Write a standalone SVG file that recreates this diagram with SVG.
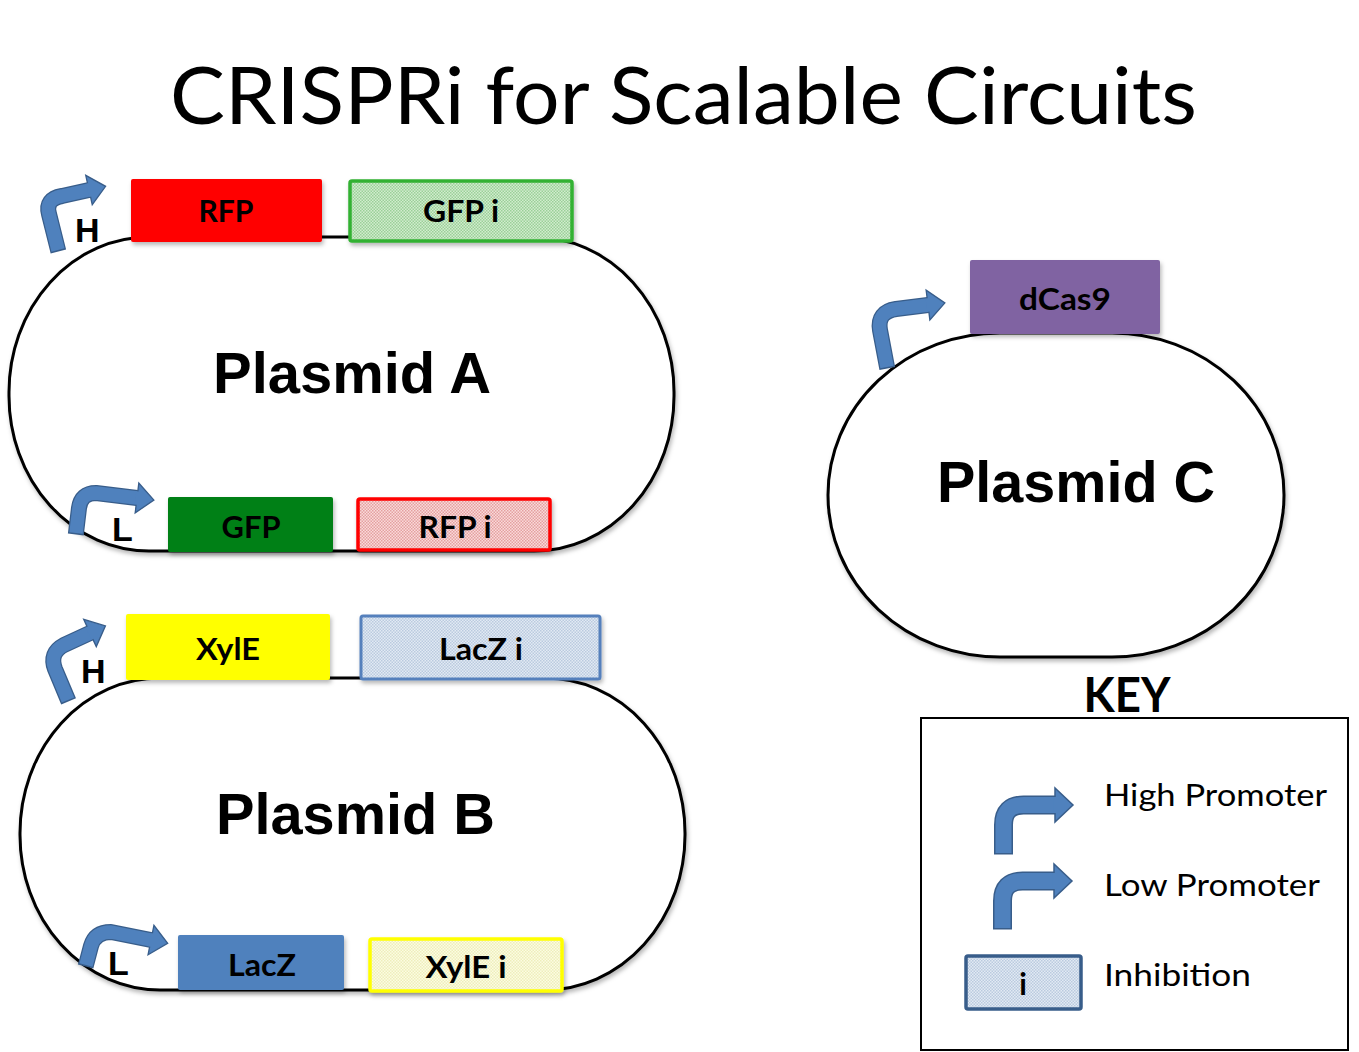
<svg xmlns="http://www.w3.org/2000/svg" width="1359" height="1052" viewBox="0 0 1359 1052">
  <defs>
    <style>
      .title { font-family: Lato, "Open Sans", sans-serif; font-size: 80px; fill: #000; }
      .plabel { font-family: "Liberation Sans", Arial, sans-serif; font-weight: bold; font-size: 57px; fill: #000; }
      .prom { font-family: "Liberation Sans", Arial, sans-serif; font-weight: bold; font-size: 34px; fill: #000; }
      .gene { font-family: Lato, "Open Sans", sans-serif; font-weight: bold; font-size: 30px; fill: #000; text-anchor: middle; }
      .keytxt { font-family: Lato, "Open Sans", sans-serif; font-size: 30px; fill: #000; }
      .keyhead { font-family: Lato, "Open Sans", sans-serif; font-weight: bold; font-size: 48px; fill: #000; text-anchor: middle; }
      .outline { fill: #fff; stroke: #000; stroke-width: 3; filter: url(#shadow); }
      .box { filter: url(#shadow); }
      .edge { fill: none; stroke: #385D8A; stroke-linejoin: round; }
      .body { fill: none; stroke: #4F81BD; stroke-linejoin: round; }
      .sm .edge { stroke-width: 16; }
      .sm .body { stroke-width: 13.5; marker-end: url(#headSm); }
      .lg .edge { stroke-width: 19; }
      .lg .body { stroke-width: 16; marker-end: url(#headLg); }
    </style>
    <filter id="shadow" x="-10%" y="-10%" width="130%" height="130%">
      <feDropShadow dx="1.5" dy="3" stdDeviation="2" flood-color="#000" flood-opacity="0.28"/>
    </filter>
    <!-- promoter arrowheads; the base edge is left open so it joins the body -->
    <marker id="headSm" markerUnits="userSpaceOnUse" orient="auto" markerWidth="40" markerHeight="40" refX="0" refY="0" style="overflow:visible">
      <path d="M-1.5,-6.75 L0,-6.75 L0,-15 L17,0 L0,15 L0,6.75 L-1.5,6.75 Z" fill="#4F81BD"/>
      <path d="M0,-6.75 L0,-15 L17,0 L0,15 L0,6.75" fill="none" stroke="#385D8A" stroke-width="1.3"/>
    </marker>
    <marker id="headLg" markerUnits="userSpaceOnUse" orient="auto" markerWidth="40" markerHeight="40" refX="0" refY="0" style="overflow:visible">
      <path d="M-1.5,-8 L0,-8 L0,-17 L18,0 L0,17 L0,8 L-1.5,8 Z" fill="#4F81BD"/>
      <path d="M0,-8 L0,-17 L18,0 L0,17 L0,8" fill="none" stroke="#385D8A" stroke-width="1.5"/>
    </marker>
    <!-- stippled fills for inhibition boxes -->
    <pattern id="dotGreen" width="3" height="3" patternUnits="userSpaceOnUse">
      <rect width="3" height="3" fill="#D2ECCE"/>
      <rect width="1.5" height="1.5" fill="#9AD098"/>
      <rect x="1.5" y="1.5" width="1.5" height="1.5" fill="#9AD098"/>
    </pattern>
    <pattern id="dotRed" width="3" height="3" patternUnits="userSpaceOnUse">
      <rect width="3" height="3" fill="#FADADA"/>
      <rect width="1.5" height="1.5" fill="#E4A0A0"/>
      <rect x="1.5" y="1.5" width="1.5" height="1.5" fill="#E4A0A0"/>
    </pattern>
    <pattern id="dotBlue" width="3" height="3" patternUnits="userSpaceOnUse">
      <rect width="3" height="3" fill="#E2EAF4"/>
      <rect width="1.5" height="1.5" fill="#BACADF"/>
      <rect x="1.5" y="1.5" width="1.5" height="1.5" fill="#BACADF"/>
    </pattern>
    <pattern id="dotYellow" width="3" height="3" patternUnits="userSpaceOnUse">
      <rect width="3" height="3" fill="#FCFCE2"/>
      <rect width="1.5" height="1.5" fill="#EEEEBC"/>
      <rect x="1.5" y="1.5" width="1.5" height="1.5" fill="#EEEEBC"/>
    </pattern>
  </defs>

  <rect width="1359" height="1052" fill="#fff"/>

  <text class="title" x="170" y="124" textLength="1027" lengthAdjust="spacingAndGlyphs">CRISPRi for Scalable Circuits</text>

  <!-- Plasmid A -->
  <g id="plasmid-a">
    <rect class="outline" x="9" y="237" width="665" height="314" rx="140" ry="155"/>
    <text class="plabel" x="213" y="393" textLength="278" lengthAdjust="spacingAndGlyphs">Plasmid A</text>
  </g>
  <g id="gene-rfp">
    <rect class="box" x="131" y="179" width="191" height="63" rx="2" fill="#FF0000"/>
    <text class="gene" x="226" y="222" textLength="55" lengthAdjust="spacingAndGlyphs">RFP</text>
  </g>
  <g id="gene-gfp-i">
    <rect class="box" x="350" y="181" width="222" height="60" rx="2" fill="url(#dotGreen)" stroke="#33B133" stroke-width="3.5"/>
    <text class="gene" x="461" y="222" textLength="76" lengthAdjust="spacingAndGlyphs">GFP i</text>
  </g>
  <g id="gene-gfp">
    <rect class="box" x="168" y="497" width="165" height="55" rx="2" fill="#008012"/>
    <text class="gene" x="251" y="538" textLength="59" lengthAdjust="spacingAndGlyphs">GFP</text>
  </g>
  <g id="gene-rfp-i">
    <rect class="box" x="358" y="499" width="192" height="51" rx="2" fill="url(#dotRed)" stroke="#FF0000" stroke-width="3.5"/>
    <text class="gene" x="455" y="538" textLength="73" lengthAdjust="spacingAndGlyphs">RFP i</text>
  </g>
  <g id="promoter-a-high" class="sm">
    <path class="edge" d="M58.4,251.5 L58,250 L49,214 Q45,199 62,196 L89,190"/>
    <path class="body" d="M58,250 L49,214 Q45,199 62,196 L89,190"/>
    <text class="prom" x="75" y="242">H</text>
  </g>
  <g id="promoter-a-low" class="sm">
    <path class="edge" d="M75.8,534.5 L76,533 L79,508 Q81,493 96,493 L137,498"/>
    <path class="body" d="M76,533 L79,508 Q81,493 96,493 L137,498"/>
    <text class="prom" x="112" y="541">L</text>
  </g>

  <!-- Plasmid B -->
  <g id="plasmid-b">
    <rect class="outline" x="20" y="678" width="665" height="312" rx="140" ry="155"/>
    <text class="plabel" x="216" y="834" textLength="279" lengthAdjust="spacingAndGlyphs">Plasmid B</text>
  </g>
  <g id="gene-xyle">
    <rect class="box" x="126" y="614" width="204" height="66" rx="2" fill="#FFFF00"/>
    <text class="gene" x="228" y="660" textLength="64" lengthAdjust="spacingAndGlyphs">XylE</text>
  </g>
  <g id="gene-lacz-i">
    <rect class="box" x="361" y="616" width="239" height="63" rx="2" fill="url(#dotBlue)" stroke="#5580BC" stroke-width="3"/>
    <text class="gene" x="481" y="660" textLength="84" lengthAdjust="spacingAndGlyphs">LacZ i</text>
  </g>
  <g id="gene-lacz">
    <rect class="box" x="178" y="935" width="166" height="55" rx="2" fill="#4F81BD"/>
    <text class="gene" x="262" y="976" textLength="68" lengthAdjust="spacingAndGlyphs">LacZ</text>
  </g>
  <g id="gene-xyle-i">
    <rect class="box" x="370" y="939" width="192" height="52" rx="2" fill="url(#dotYellow)" stroke="#FFFF00" stroke-width="3.5"/>
    <text class="gene" x="466" y="978" textLength="81" lengthAdjust="spacingAndGlyphs">XylE i</text>
  </g>
  <g id="promoter-b-high" class="sm">
    <path class="edge" d="M68.6,701.4 L68,700 L55,669 Q49,653 64,645 L90,633"/>
    <path class="body" d="M68,700 L55,669 Q49,653 64,645 L90,633"/>
    <text class="prom" x="81" y="683">H</text>
  </g>
  <g id="promoter-b-low" class="sm">
    <path class="edge" d="M85.6,966.5 L86,965 L91,946 Q95,932 111,932 L151,940"/>
    <path class="body" d="M86,965 L91,946 Q95,932 111,932 L151,940"/>
    <text class="prom" x="108" y="975">L</text>
  </g>

  <!-- Plasmid C -->
  <g id="plasmid-c">
    <rect class="outline" x="828" y="333" width="456" height="324" rx="172" ry="162"/>
    <text class="plabel" x="937" y="502" textLength="278" lengthAdjust="spacingAndGlyphs">Plasmid C</text>
  </g>
  <g id="gene-dcas9">
    <rect class="box" x="970" y="260" width="190" height="74" rx="2" fill="#8064A2"/>
    <text class="gene" x="1065" y="310" textLength="92" lengthAdjust="spacingAndGlyphs">dCas9</text>
  </g>
  <g id="promoter-c" class="sm">
    <path class="edge" d="M887.3,368.5 L887,367 L880,330 Q877,312 896,309 L928,305"/>
    <path class="body" d="M887,367 L880,330 Q877,312 896,309 L928,305"/>
  </g>

  <!-- Key -->
  <g id="key">
    <text class="keyhead" x="1127" y="712" textLength="87" lengthAdjust="spacingAndGlyphs">KEY</text>
    <rect x="921" y="718" width="427" height="332" fill="none" stroke="#000" stroke-width="2"/>
    <g id="key-high" class="lg">
      <path class="edge" d="M1003.5,854.5 L1003.5,853 L1003.5,825 Q1003.5,805 1023.5,805 L1055,805"/>
      <path class="body" d="M1003.5,853 L1003.5,825 Q1003.5,805 1023.5,805 L1055,805"/>
      <text class="keytxt" x="1104" y="806" textLength="223" lengthAdjust="spacingAndGlyphs">High Promoter</text>
    </g>
    <g id="key-low" class="lg">
      <path class="edge" d="M1002.5,929.5 L1002.5,928 L1002.5,901 Q1002.5,881 1022.5,881 L1054,881"/>
      <path class="body" d="M1002.5,928 L1002.5,901 Q1002.5,881 1022.5,881 L1054,881"/>
      <text class="keytxt" x="1104" y="896" textLength="216" lengthAdjust="spacingAndGlyphs">Low Promoter</text>
    </g>
    <g id="key-inhibition">
      <rect x="966" y="956" width="115" height="53" rx="2" fill="url(#dotBlue)" stroke="#385D8A" stroke-width="3.5"/>
      <text class="keytxt" x="1023" y="995" text-anchor="middle" font-weight="bold">i</text>
      <text class="keytxt" x="1104" y="986" textLength="147" lengthAdjust="spacingAndGlyphs">Inhibition</text>
    </g>
  </g>
</svg>
